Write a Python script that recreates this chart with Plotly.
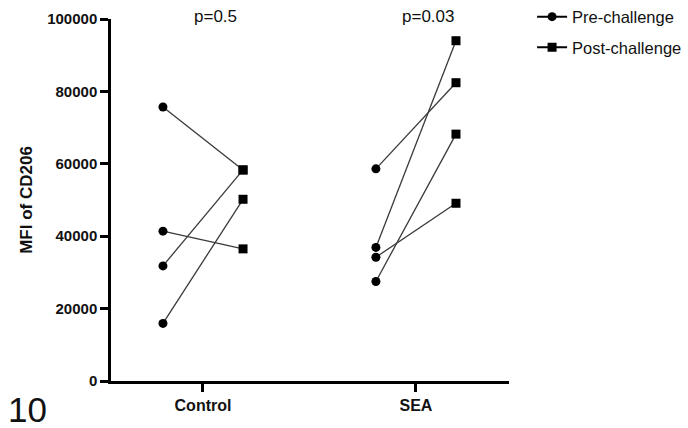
import plotly.graph_objects as go

groups = ["Control", "SEA"]
pre_values = {
    "Control": [75700, 41400, 31800, 15900],
    "SEA": [58600, 36900, 34200, 27500],
}
post_values = {
    "Control": [58300, 36500, 58300, 50200],
    "SEA": [82400, 94000, 49100, 68200],
}
p_labels = ["p=0.5", "p=0.03"]
y_ticks = [0, 20000, 40000, 60000, 80000, 100000]
panel_label = "10"

OFFSET = 0.188
LINE_COLOR = "#3a3a3a"
FONT = "Liberation Sans, Arial, Helvetica, sans-serif"

fig = go.Figure()

# connecting lines
lx, ly = [], []
for gi, g in enumerate(groups):
    for a, b in zip(pre_values[g], post_values[g]):
        lx += [gi - OFFSET, gi + OFFSET, None]
        ly += [a, b, None]
fig.add_trace(go.Scatter(x=lx, y=ly, mode="lines", showlegend=False,
                         line=dict(color=LINE_COLOR, width=1.3), hoverinfo="skip"))

# pre markers (isolated points, so legend shows line+marker)
px_, py_ = [], []
for gi, g in enumerate(groups):
    for a in pre_values[g]:
        px_ += [gi - OFFSET, None]
        py_ += [a, None]
fig.add_trace(go.Scatter(x=px_, y=py_, mode="lines+markers", name="Pre-challenge",
                         legendgroup="pre",
                         line=dict(color="black", width=2),
                         marker=dict(symbol="circle", size=9, color="black")))

qx, qy = [], []
for gi, g in enumerate(groups):
    for b in post_values[g]:
        qx += [gi + OFFSET, None]
        qy += [b, None]
fig.add_trace(go.Scatter(x=qx, y=qy, mode="lines+markers", name="Post-challenge",
                         legendgroup="post",
                         line=dict(color="black", width=2),
                         marker=dict(symbol="square", size=9, color="black")))

annotations = []
p_pos = [0.06, 1.056]
for xp, t in zip(p_pos, p_labels):
    annotations.append(dict(x=xp, xref="x", y=1.006, yref="paper", text=t,
                            showarrow=False, font=dict(family=FONT, size=17, color="#111"),
                            xanchor="center", yanchor="middle"))
annotations.append(dict(x=-0.209, xref="paper", y=-0.08, yref="paper", text=panel_label,
                        showarrow=False, font=dict(family=FONT, size=35, color="#111"),
                        xanchor="center", yanchor="middle"))

fig.update_layout(
    width=688, height=428,
    margin=dict(l=111, r=179, t=19, b=47, autoexpand=False),
    paper_bgcolor="white", plot_bgcolor="white",
    font=dict(family=FONT, color="#111"),
    showlegend=True,
    legend=dict(x=1.058, y=1.054, xanchor="left", yanchor="top",
                font=dict(family=FONT, size=16.5, color="#111"),
                tracegroupgap=6, bgcolor="rgba(0,0,0,0)", traceorder="grouped"),
    annotations=annotations,
    xaxis=dict(range=[-0.432, 1.437], tickvals=list(range(len(groups))), ticktext=groups,
               showline=True, linecolor="black", linewidth=2.5, ticks="outside",
               ticklen=8, tickwidth=2.5, tickcolor="black", showgrid=False, zeroline=False,
               tickfont=dict(family=FONT, size=16, color="#111", weight="bold")),
    yaxis=dict(range=[0, 100000], tickvals=y_ticks, ticktext=[str(v) for v in y_ticks],
               showline=True, linecolor="black", linewidth=2.5, ticks="outside",
               ticklen=8, tickwidth=2.5, tickcolor="black", showgrid=False, zeroline=False,
               tickfont=dict(family=FONT, size=15, color="#111", weight="bold"),
               title=dict(text="<b>MFI of CD206</b>", standoff=11,
                          font=dict(family=FONT, size=17, color="#111"))),
)

fig.write_html("out.html")
